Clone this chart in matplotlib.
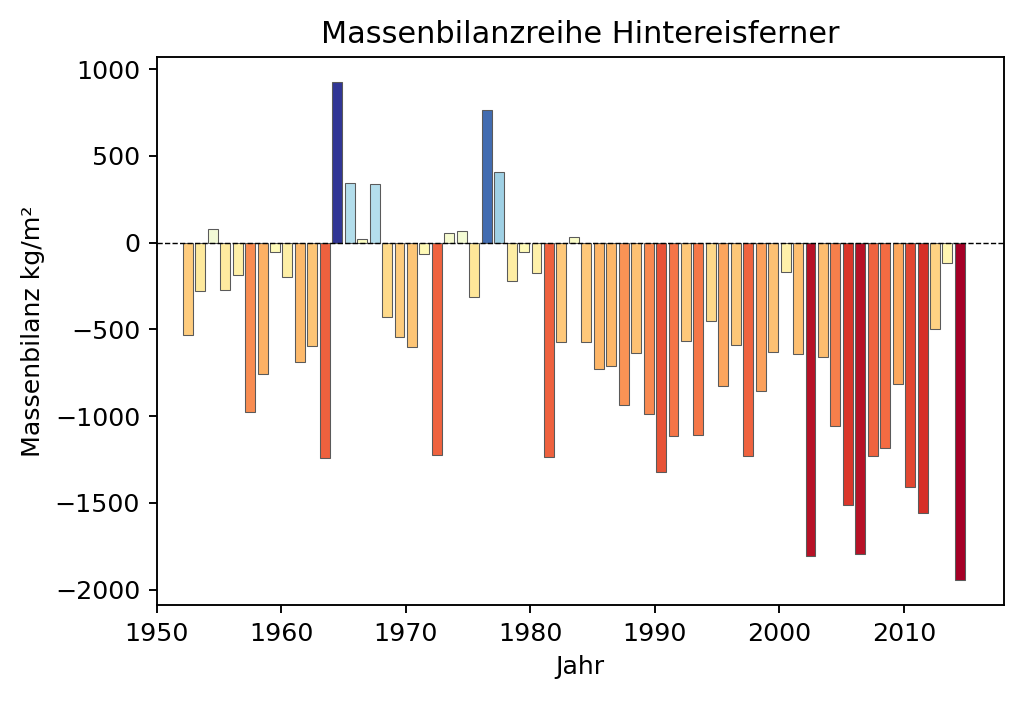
import matplotlib
matplotlib.use('Agg')
import matplotlib.pyplot as plt
import matplotlib.colors as mcolors
import numpy as np

plt.rcParams['font.size'] = 10.7

# Massenbilanz (kg/m²) je hydrologischem Jahr 1952/53 .. 2014/15
jahre = np.arange(1953, 2016)
bilanz = [-534, -282, 77, -271, -187, -974, -759, -56, -198, -691,
          -595, -1241, 926, 344, 20, 340, -428, -547, -601, -67,
          -1225, 56, 66, -313, 763, 406, -219, -52, -173, -1237,
          -576, 33, -576, -726, -711, -935, -634, -989, -1325, -1114,
          -570, -1108, -455, -826, -592, -1231, -858, -628, -172, -643,
          -1807, -662, -1056, -1513, -1795, -1231, -1183, -816, -1411, -1559,
          -499, -119, -1947]

bilanz = np.array(bilanz)

# Farben: RdYlBu, Mitte bei 0
norm = mcolors.TwoSlopeNorm(vmin=bilanz.min(), vcenter=0, vmax=bilanz.max())
farben = plt.cm.RdYlBu(norm(bilanz))

fig = plt.figure(figsize=(1024 / 170, 703 / 170), dpi=170)
ax = fig.add_axes([0.153, 0.139, 0.827, 0.780])

# Balken in der Mitte des hydrologischen Jahres
ax.bar(jahre - 0.5, bilanz, width=0.8, color=farben,
       edgecolor='#5a5a5a', linewidth=0.45)
ax.axhline(0, color='k', linestyle='--', linewidth=0.6)

ax.set_xlim(1950, 2018)
ax.set_xticks(range(1950, 2011, 10))
ax.set_yticks(range(-2000, 1001, 500))

ax.set_title('Massenbilanzreihe Hintereisferner', fontsize=12.8)
ax.set_xlabel('Jahr')
ax.set_ylabel('Massenbilanz kg/m²')

plt.savefig('out.png', dpi=170)
print('out.png gespeichert')
